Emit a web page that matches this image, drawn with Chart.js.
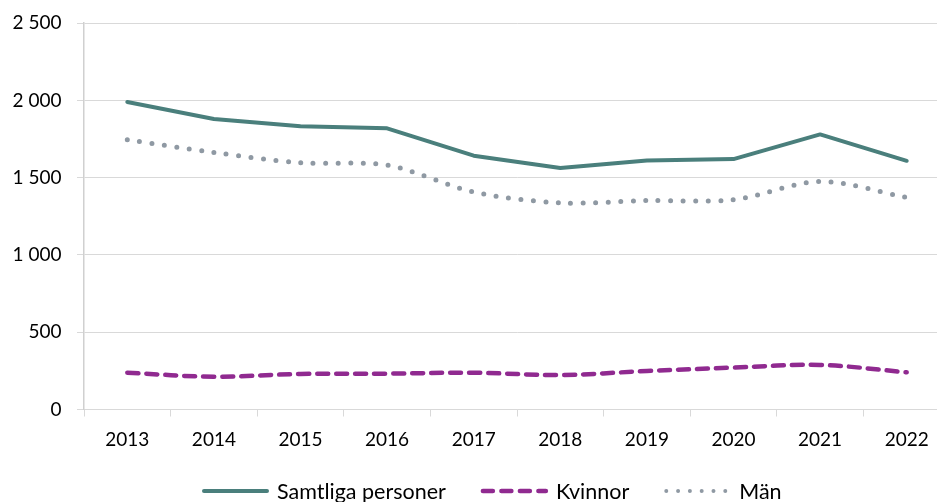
<!DOCTYPE html>
<html>
<head>
<meta charset="utf-8">
<script src="https://cdn.jsdelivr.net/npm/chart.js@4"></script>
<style>
  html, body { margin: 0; padding: 0; background: #fff; overflow: hidden; }
  #wrap { width: 937px; height: 502px; overflow: hidden; }
</style>
</head>
<body>
<div id="wrap"><canvas id="myChart" width="950" height="502"></canvas></div>
<script>
var years = ['2013', '2014', '2015', '2016', '2017', '2018', '2019', '2020', '2021', '2022'];
var samtliga = [1990, 1880, 1832, 1819, 1642, 1562, 1611, 1620, 1780, 1609];
var kvinnor = [238, 212, 230, 232, 238, 223, 249, 271, 288, 241];
var man = [1745, 1663, 1596, 1581, 1407, 1337, 1352, 1357, 1475, 1372];
var yTicks = [0, 500, 1000, 1500, 2000, 2500];

var FONT = 'Lato, "Open Sans", sans-serif';

function fmt(v) {
    return String(v).replace(/\B(?=(\d{3})+(?!\d))/g, ' ');
}

// legend drawn by hand so it can sit where Excel put it
var bottomLegend = {
    id: 'bottomLegend',
    afterDraw: function(chart) {
        var ctx = chart.ctx;
        var sets = chart.data.datasets;
        var y = 491, sample = 67, gap = 8, between = 35;
        ctx.save();
        ctx.font = '21.5px ' + FONT;
        var x = 202;
        sets.forEach(function(ds) {
            ctx.beginPath();
            ctx.strokeStyle = ds.borderColor;
            ctx.lineWidth = ds.legendWidth || ds.borderWidth;
            ctx.lineCap = ds.borderCapStyle || 'butt';
            ctx.setLineDash(ds.legendDash || ds.borderDash || []);
            ctx.moveTo(x + 2, y);
            ctx.lineTo(x + sample - 2, y);
            ctx.stroke();
            ctx.setLineDash([]);
            ctx.fillStyle = '#000';
            ctx.textBaseline = 'middle';
            ctx.fillText(ds.label, x + sample + gap, y + 1);
            x += sample + gap + ctx.measureText(ds.label).width + between;
        });
        ctx.restore();
    }
};

var ctx = document.getElementById('myChart').getContext('2d');
window.myChart = new Chart(ctx, {
    type: 'line',
    data: {
        labels: years,
        datasets: [{
            label: 'Samtliga personer',
            data: samtliga,
            borderColor: '#4a7f7c',
            borderWidth: 4,
            borderCapStyle: 'round',
            borderJoinStyle: 'round',
            tension: 0,
            pointRadius: 0
        }, {
            label: 'Kvinnor',
            data: kvinnor,
            borderColor: '#902a90',
            borderWidth: 4.5,
            borderCapStyle: 'round',
            borderDash: [11, 8],
            legendDash: [10, 8.5],
            tension: 0.35,
            pointRadius: 0
        }, {
            label: 'Män',
            data: man,
            borderColor: '#8f99a3',
            borderWidth: 5,
            borderCapStyle: 'round',
            borderDash: [0, 12.5],
            legendWidth: 4,
            legendDash: [0, 11.8],
            tension: 0.3,
            pointRadius: 0
        }]
    },
    options: {
        responsive: false,
        animation: false,
        layout: { padding: { top: 0, right: 0, bottom: 37.5, left: 0 } },
        plugins: {
            legend: { display: false },
            tooltip: { enabled: false }
        },
        scales: {
            x: {
                offset: true,
                grid: {
                    offset: true,
                    drawOnChartArea: false,
                    drawTicks: true,
                    tickLength: 7,
                    color: '#d9d9d9'
                },
                border: { color: '#d9d9d9', width: 1 },
                ticks: { color: '#000', font: { family: FONT, size: 19 }, padding: 12, maxRotation: 0 },
                afterFit: function(scale) { scale.height = 55; }
            },
            y: {
                min: 0,
                max: 2500,
                afterBuildTicks: function(scale) {
                    scale.ticks = yTicks.map(function(v) { return { value: v }; });
                },
                grid: {
                    color: '#d9d9d9',
                    drawTicks: true,
                    tickLength: 7
                },
                border: { color: '#d0d0d0', width: 1.5 },
                ticks: {
                    color: '#000',
                    font: { family: FONT, size: 19, lineHeight: 0.8 },
                    padding: 15.5,
                    callback: function(v) { return fmt(v); }
                },
                afterFit: function(scale) { scale.width = 84; }
            }
        }
    },
    plugins: [bottomLegend]
});
</script>
</body>
</html>
